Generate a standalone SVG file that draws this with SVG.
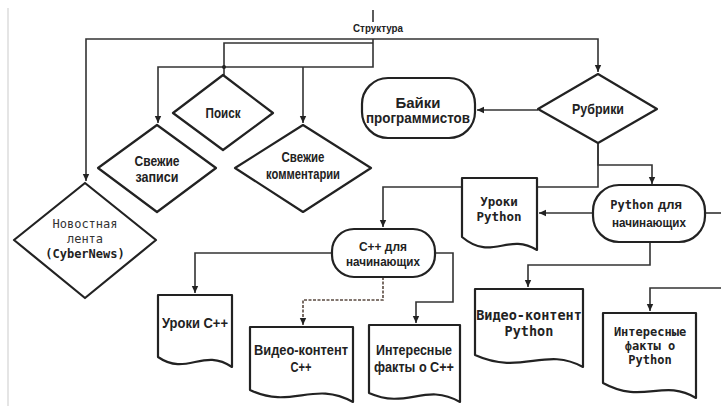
<svg xmlns="http://www.w3.org/2000/svg" width="721" height="406" viewBox="0 0 721 406">
<defs>
<marker id="arr" markerWidth="8" markerHeight="8" refX="7" refY="4" orient="auto" markerUnits="userSpaceOnUse">
<path d="M0,0.8 L7,4 L0,7.2 Z" fill="#222"/>
</marker>
<style>
.shape{fill:#fff;stroke:#222;stroke-width:2.2;stroke-linejoin:round}
.conn{fill:none;stroke:#333;stroke-width:1.6}
.dash{stroke-dasharray:3 1.5;stroke:#5a4a40}
.n{font-family:"Liberation Sans",Arial,sans-serif;font-weight:bold;font-size:14px;fill:#222;text-anchor:middle}
.m{font-family:"DejaVu Sans Mono","Liberation Mono",monospace;font-weight:bold;font-size:12.5px;fill:#222;text-anchor:middle}
.mr{font-family:"DejaVu Sans Mono","Liberation Mono",monospace;font-size:12px;fill:#333;text-anchor:middle}
</style>
</defs>
<rect width="721" height="406" fill="#fff"/>
<line x1="8" y1="8" x2="8" y2="406" stroke="#ddd" stroke-width="1.5"/>

<g id="connectors">
<line class="conn" x1="373" y1="10" x2="373" y2="22" stroke-width="1"/>
<path class="conn" d="M373,39 H86 V181" marker-end="url(#arr)"/>
<path class="conn" d="M373,39 H598 V72" marker-end="url(#arr)"/>
<path class="conn" d="M373,39 V67 H158 V123" marker-end="url(#arr)"/>
<path class="conn" d="M373,43 H224 V75"/>
<circle cx="224" cy="67" r="2" fill="#222"/>
<path class="conn" d="M303,67 V123" marker-end="url(#arr)"/>
<path class="conn" d="M538,110 H477" marker-end="url(#arr)"/>
<path class="conn" d="M598,143 V165 H652 V184" marker-end="url(#arr)"/>
<path class="conn" d="M598,143 V187 H383 V227" marker-end="url(#arr)"/>
<path class="conn" d="M593,213 H539" marker-end="url(#arr)"/>
<path class="conn" d="M705,213 H721"/>
<path class="conn" d="M650,242 V265 H528 V287" marker-end="url(#arr)"/>
<path class="conn" d="M721,288 H650 V311" marker-end="url(#arr)"/>
<path class="conn" d="M332,253 H195 V293" marker-end="url(#arr)"/>
<path class="conn dash" d="M383,277 V300 H303 V325" marker-end="url(#arr)"/>
<path class="conn" d="M435,253 H453 V302 H416 V323" marker-end="url(#arr)"/>
</g>

<g id="struktura">
<text x="378" y="32" class="n" style="font-size:10.5px" textLength="50" lengthAdjust="spacingAndGlyphs">Структура</text>
</g>

<g id="poisk">
<path class="shape" d="M223,75 L273,113 L223,150 L173,113 Z"/>
<text x="223" y="118" class="n" textLength="35" lengthAdjust="spacingAndGlyphs">Поиск</text>
</g>

<g id="svezhie-zapisi">
<path class="shape" d="M157,125 L216,168 L157,212 L98,168 Z"/>
<text x="157" y="166" class="n" textLength="45" lengthAdjust="spacingAndGlyphs">Свежие</text>
<text x="157" y="182" class="n" textLength="43" lengthAdjust="spacingAndGlyphs">записи</text>
</g>

<g id="svezhie-kommentarii">
<path class="shape" d="M303,125 L371,168 L303,212 L235,168 Z"/>
<text x="303" y="162" class="n" textLength="43" lengthAdjust="spacingAndGlyphs">Свежие</text>
<text x="303" y="179" class="n" textLength="74" lengthAdjust="spacingAndGlyphs">комментарии</text>
</g>

<g id="novostnaya-lenta">
<path class="shape" d="M85,183 L156,240 L85,298 L14,240 Z"/>
<text x="85" y="228" class="mr">Новостная</text>
<text x="85" y="243" class="mr">лента</text>
<text x="85" y="258" class="m" style="font-size:12px">(CyberNews)</text>
</g>

<g id="rubriki">
<path class="shape" d="M598,74 L657,109 L598,143 L538,109 Z"/>
<text x="598" y="114" class="n" textLength="52" lengthAdjust="spacingAndGlyphs">Рубрики</text>
</g>

<g id="baiki">
<rect class="shape" x="362" y="78" width="113" height="60" rx="26" ry="26"/>
<text x="418" y="108" class="n" textLength="45" lengthAdjust="spacingAndGlyphs">Байки</text>
<text x="418" y="123" class="n" textLength="104" lengthAdjust="spacingAndGlyphs">программистов</text>
</g>

<g id="python-begin">
<rect class="shape" x="593" y="185" width="112" height="57" rx="26" ry="26"/>
<text x="632" y="209" class="m" style="font-size:12px">Python</text>
<text x="658" y="209" class="n" style="font-size:13.5px;text-anchor:start" textLength="24" lengthAdjust="spacingAndGlyphs">для</text>
<text x="649" y="227" class="n" style="font-size:13.5px" textLength="74" lengthAdjust="spacingAndGlyphs">начинающих</text>
</g>

<g id="uroki-python">
<path class="shape" d="M462,178 H537 V250 C507,232 492,262 462,237 Z"/>
<text x="499" y="206" class="m">Уроки</text>
<text x="499" y="221" class="m">Python</text>
</g>

<g id="cpp-begin">
<rect class="shape" x="332" y="229" width="103" height="48" rx="22" ry="22"/>
<text x="383" y="251" class="n" style="font-size:13.5px" textLength="48" lengthAdjust="spacingAndGlyphs">C++ для</text>
<text x="383" y="266" class="n" style="font-size:13.5px" textLength="74" lengthAdjust="spacingAndGlyphs">начинающих</text>
</g>

<g id="uroki-cpp">
<path class="shape" d="M158,295 H232 V367 C203,347 187,377 158,357 Z"/>
<text x="195" y="328" class="n" style="font-size:15px" textLength="66" lengthAdjust="spacingAndGlyphs">Уроки C++</text>
</g>

<g id="video-cpp">
<path class="shape" d="M250,327 H353 V402 C313,380 292,410 250,390 Z"/>
<text x="301" y="355" class="n" textLength="94" lengthAdjust="spacingAndGlyphs">Видео-контент</text>
<text x="301" y="372" class="n" textLength="21" lengthAdjust="spacingAndGlyphs">C++</text>
</g>

<g id="facts-cpp">
<path class="shape" d="M369,325 H460 V402 C425,382 407,410 369,393 Z"/>
<text x="414" y="355" class="n" textLength="76" lengthAdjust="spacingAndGlyphs">Интересные</text>
<text x="414" y="372" class="n" textLength="80" lengthAdjust="spacingAndGlyphs">факты о C++</text>
</g>

<g id="video-python">
<path class="shape" d="M475,289 H583 V367 C545,346 522,376 475,355 Z"/>
<text x="529" y="320" class="m" style="font-size:13.5px">Видео-контент</text>
<text x="529" y="336" class="m" style="font-size:13.5px">Python</text>
</g>

<g id="facts-python">
<path class="shape" d="M603,313 H696 V398 C663,378 643,405 603,383 Z"/>
<text x="650" y="336" class="m" style="font-size:12px">Интересные</text>
<text x="650" y="350" class="m" style="font-size:12px">факты о</text>
<text x="650" y="364" class="m" style="font-size:12px">Python</text>
</g>
</svg>
